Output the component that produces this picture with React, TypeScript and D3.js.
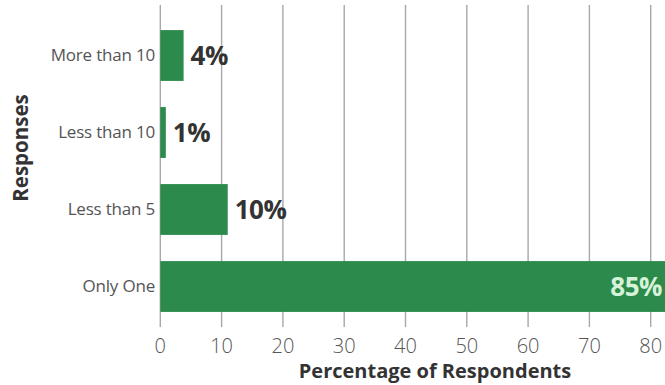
import React from "react";
import * as d3 from "d3";

const categories = ["More than 10", "Less than 10", "Less than 5", "Only One"];
const values = [3.8, 0.9, 11, 85];
const valueLabels = ["4%", "1%", "10%", "85%"];
const xTicks = [0, 10, 20, 30, 40, 50, 60, 70, 80];
const xTitle = "Percentage of Respondents";
const yTitle = "Responses";

export default function App() {
  const W = 665, H = 385;
  const x = d3.scaleLinear().domain([0, 80]).range([160.3, 650.7]);
  const y = d3.scaleBand<string>().domain(categories).range([17, 325]).paddingInner(0.34).paddingOuter(0.17);
  const font = "'Open Sans', 'Noto Sans', sans-serif";
  return (
    <svg width={W} height={H} style={{ position: "absolute", left: 0, top: 0, background: "#fff" }} fontFamily={font}>
      {xTicks.map((t) => (
        <line key={"g" + t} x1={x(t)} x2={x(t)} y1={5} y2={327} stroke="#a8a8a8" strokeWidth={1.4} />
      ))}
      {categories.map((c, i) => (
        <rect key={"b" + c} x={x(0)} y={y(c)!} width={x(values[i]) - x(0)} height={y.bandwidth()} fill="#2b8a4c" />
      ))}
      {categories.map((c, i) => {
        const inside = values[i] > 50;
        return (
          <text
            key={"v" + c}
            x={inside ? 662 : x(values[i]) + 7}
            y={y(c)! + y.bandwidth() / 2}
            dy="0.35em"
            textAnchor={inside ? "end" : "start"}
            fontSize={26}
            fontWeight={700}
            letterSpacing={-0.5}
            fill={inside ? "#d6f2d8" : "#333"}
          >
            {valueLabels[i]}
          </text>
        );
      })}
      {categories.map((c) => (
        <text key={"c" + c} x={155} y={y(c)! + y.bandwidth() / 2} dy="0.35em" textAnchor="end" fontSize={17} fill="#555" letterSpacing={-0.2}>
          {c}
        </text>
      ))}
      {xTicks.map((t) => (
        <text key={"t" + t} x={x(t)} y={353} textAnchor="middle" fontSize={20} fontWeight={300} fill="#555">
          {t}
        </text>
      ))}
      <text x={435} y={378} textAnchor="middle" fontSize={20} fontWeight={700} fill="#333">
        {xTitle}
      </text>
      <text transform="translate(28,148) rotate(-90)" textAnchor="middle" fontSize={20.5} fontWeight={700} fill="#333">
        {yTitle}
      </text>
    </svg>
  );
}
